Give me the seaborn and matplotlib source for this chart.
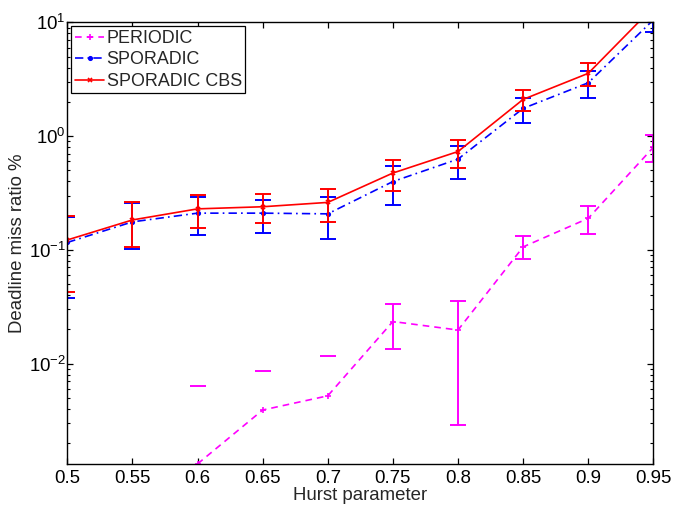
import numpy as np
import pandas as pd
import matplotlib
matplotlib.use("Agg")
import matplotlib.pyplot as plt
import seaborn as sns

nan = np.nan
hurst = [0.5, 0.55, 0.6, 0.65, 0.7, 0.75, 0.8, 0.85, 0.9, 0.95]
xtick_labels = ["0.5", "0.55", "0.6", "0.65", "0.7", "0.75", "0.8", "0.85", "0.9", "0.95"]

periodic_mean = [nan, nan, 0.00131, 0.0039, 0.0052, 0.0234, 0.0197, 0.106, 0.189, 0.796]
periodic_low = [nan, nan, nan, nan, nan, 0.0135, 0.0029, 0.0826, 0.138, 0.587]
periodic_high = [nan, nan, 0.0064, 0.0086, 0.0116, 0.0333, 0.0358, 0.132, 0.244, 1.02]

sporadic_mean = [0.116, 0.176, 0.210, 0.210, 0.207, 0.398, 0.627, 1.75, 2.94, 10.5]
sporadic_low = [0.0375, 0.101, 0.135, 0.140, 0.124, 0.249, 0.419, 1.30, 2.16, 8.26]
sporadic_high = [0.195, 0.256, 0.290, 0.274, 0.290, 0.545, 0.822, 2.17, 3.73, 12.8]

cbs_mean = [0.122, 0.183, 0.229, 0.239, 0.261, 0.473, 0.731, 2.10, 3.56, 13.6]
cbs_low = [0.0428, 0.105, 0.154, 0.173, 0.174, 0.329, 0.526, 1.66, 2.77, 11.0]
cbs_high = [0.198, 0.261, 0.303, 0.309, 0.342, 0.615, 0.923, 2.54, 4.35, 16.5]

labels = ["PERIODIC", "SPORADIC", "SPORADIC CBS"]

FS = 13.4
sns.set_style("ticks")
plt.rcParams["font.family"] = ["Liberation Sans", "DejaVu Sans"]
plt.rcParams["font.size"] = FS
plt.rcParams["mathtext.fontset"] = "custom"
plt.rcParams["mathtext.rm"] = "Liberation Sans"
plt.rcParams["mathtext.it"] = "Liberation Sans:italic"
plt.rcParams["mathtext.default"] = "regular"

fig = plt.figure(figsize=(6.73, 5.05), dpi=100)
ax = fig.add_axes([0.1, 0.0806, 0.8708, 0.8752])

series = [
    (labels[0], periodic_mean, periodic_low, periodic_high, "#ff00ff", (0, (4, 3)), "+", 5),
    (labels[1], sporadic_mean, sporadic_low, sporadic_high, "#0000ff", (0, (5, 2.5, 1, 2.5)), ".", 5),
    (labels[2], cbs_mean, cbs_low, cbs_high, "#ff0000", "-", "x", 3.5),
]

for name, mean, low, high, color, ls, mk, ms in series:
    m = np.array(mean, dtype=float)
    lo = np.array(low, dtype=float)
    hi = np.array(high, dtype=float)
    yerr = np.vstack([m - lo, hi - m])
    ax.errorbar(hurst, m, yerr=yerr, fmt="none", ecolor=color, elinewidth=1.4,
                capsize=5.8, capthick=1.4)
    df = pd.DataFrame({"x": hurst, "y": mean})
    sns.lineplot(data=df.dropna(), x="x", y="y", ax=ax, color=color, linestyle=ls,
                 marker=mk, markersize=ms, markeredgewidth=1.2, markeredgecolor=color,
                 markerfacecolor=color, linewidth=1.2, label=name, legend=False)

ax.set_yscale("log")
ax.set_xlim(0.5, 0.95)
ax.set_ylim(0.0013, 10)
ax.set_xticks(hurst)
ax.set_xticklabels(xtick_labels)
ax.set_xlabel("Hurst parameter", labelpad=0)
ax.set_ylabel("Deadline miss ratio %", labelpad=2)

for side in ["top", "right", "left", "bottom"]:
    ax.spines[side].set_visible(True)
    ax.spines[side].set_linewidth(1.0)
    ax.spines[side].set_color("black")
ax.tick_params(which="both", direction="in", top=True, right=True, colors="black")
ax.tick_params(which="major", length=4.3, width=0.9)
ax.tick_params(which="minor", length=2.5, width=0.8)
ax.tick_params(axis="x", which="minor", bottom=False, top=False)
ax.tick_params(axis="x", pad=4)
ax.tick_params(axis="y", pad=1)

handles, labs = ax.get_legend_handles_labels()
leg = ax.legend(handles, labs, loc="upper left", frameon=True, fancybox=False,
                edgecolor="black", framealpha=1, borderpad=0.2, labelspacing=0.25,
                handlelength=1.65, handletextpad=0.12, borderaxespad=0.22,
                fontsize=12.9)
leg.get_frame().set_linewidth(0.9)

fig.savefig("out.png", dpi=100)
